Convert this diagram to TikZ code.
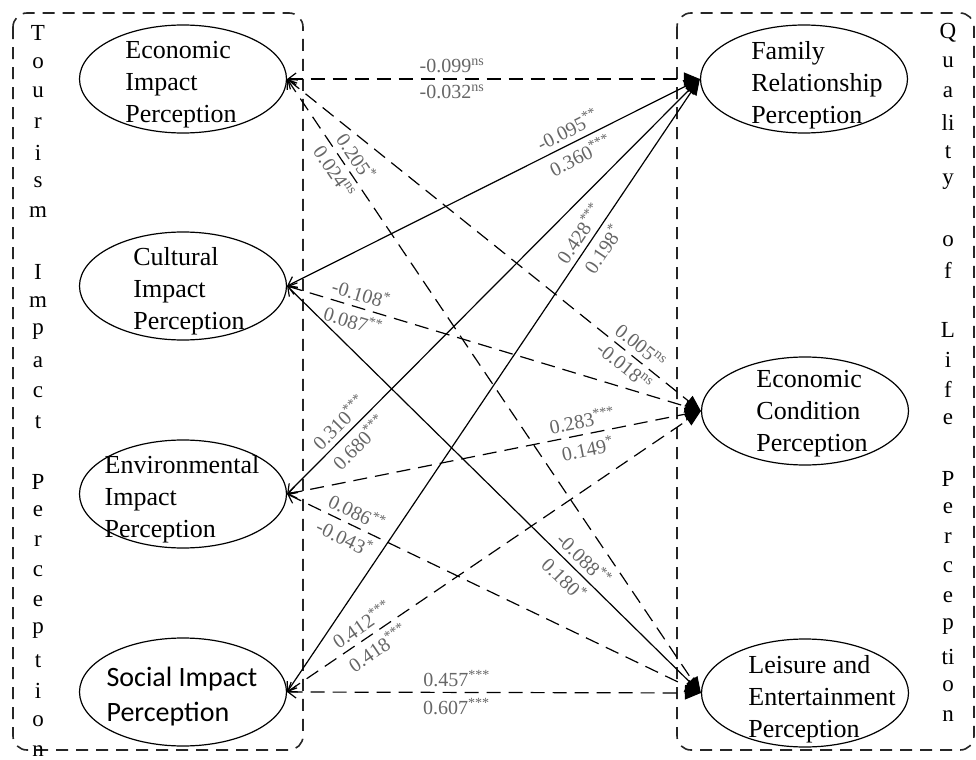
\documentclass[tikz,border=0pt]{standalone}
\usepackage{fontspec}
\setmainfont{Liberation Serif}
\newfontfamily\calibrifont{Carlito}
\usetikzlibrary{arrows.meta,shapes.geometric}
\begin{document}
\begin{tikzpicture}[x=0.5pt,y=-0.5pt,
  box/.style={draw=black!85, line width=0.8pt, dash pattern=on 6pt off 4pt, rounded corners=7pt},
  ell/.style={draw, ellipse, line width=0.6pt, minimum width=103.5pt, minimum height=54pt, inner sep=0pt},
  etext/.style={align=left, font=\fontsize{13}{16}\selectfont, inner sep=0pt},
  vlet/.style={font=\fontsize{11.5}{13}\selectfont, inner sep=0pt},
  conn/.style={line width=0.6pt, {Straight Barb[length=4pt,width=6pt]}-{Triangle[length=8pt,width=6.5pt]}},
  dsh/.style={conn, dash pattern=on 7pt off 4pt},
  lab/.style={font=\fontsize{10}{12}\selectfont, text=black!60, inner sep=2.6pt, sloped}
]
\useasboundingbox (0,0) rectangle (976,760);

% group boxes
\draw[box] (13,13) rectangle (303,750);
\draw[box] (677,13) rectangle (974,750);

% vertical titles
\foreach \l [count=\i from 0] in {T,o,u,r,i,s,m,,I,m,p,a,c,t,,P,e,r,c,e,p,t,i,o,n}
  \node[vlet] (tl\i) at (38,{33+29.9*\i}) {\l};
\foreach \l [count=\i from 0] in {Q,u,a,li,t,y,,o,f,,L,i,f,e,,P,e,r,c,e,p,ti,o,n}
  \node[vlet] (tr\i) at (948,{33+29.7*\i}) {\l};

% ellipses
\node[ell] (ei) at (183,79) {};
\node[etext] (eit) at (181,85) {Economic\\Impact\\Perception};
\node[ell] (ci) at (183,286) {};
\node[etext] (cit) at (189,291) {Cultural\\Impact\\Perception};
\node[ell] (vi) at (183,494) {};
\node[etext] (vit) at (182,499) {Environmental\\Impact\\Perception};
\node[ell] (si) at (183,692) {};
\node[etext, font=\calibrifont\fontsize{14}{17.5}\selectfont] (sit) at (182,697) {Social Impact\\Perception};

\node[ell] (fr) at (804,79) {};
\node[etext] (frt) at (817,85) {Family\\Relationship\\Perception};
\node[ell] (ec) at (805,411) {};
\node[etext] (ect) at (812,414) {Economic\\Condition\\Perception};
\node[ell] (le) at (805,693) {};
\node[etext] (let) at (822,699) {Leisure and\\Entertainment\\Perception};

% connectors
\draw[dsh] (ei.east) -- node[lab,pos=.40,above]{-0.099\textsuperscript{ns}} node[lab,pos=.40,below]{-0.032\textsuperscript{ns}} (fr.west);
\draw[dsh] (ei.east) -- node[lab,pos=.835,above]{0.005\textsuperscript{ns}} node[lab,pos=.835,below]{-0.018\textsuperscript{ns}} (ec.west);
\draw[dsh] (ei.east) -- node[lab,pos=.14,above]{0.205\textsuperscript{*}} node[lab,pos=.14,below]{0.024\textsuperscript{ns}} (le.west);

\draw[conn] (ci.east) -- node[lab,pos=.695,above]{-0.095\textsuperscript{**}} node[lab,pos=.695,below]{0.360\textsuperscript{***}} (fr.west);
\draw[dsh] (ci.east) -- node[lab,pos=.17,above]{-0.108\textsuperscript{*}} node[lab,pos=.17,below]{0.087\textsuperscript{**}} (ec.west);
\draw[conn] (ci.east) -- node[lab,pos=.695,above]{-0.088\textsuperscript{**}} node[lab,pos=.695,below]{0.180\textsuperscript{*}} (le.west);

\draw[conn] (vi.east) -- node[lab,pos=.15,above]{0.310\textsuperscript{***}} node[lab,pos=.15,below]{0.680\textsuperscript{***}} (fr.west);
\draw[dsh] (vi.east) -- node[lab,pos=.72,above]{0.283\textsuperscript{***}} node[lab,pos=.72,below]{0.149\textsuperscript{*}} (ec.west);
\draw[dsh] (vi.east) -- node[lab,pos=.155,above]{0.086\textsuperscript{**}} node[lab,pos=.155,below]{-0.043\textsuperscript{*}} (le.west);

\draw[conn] (si.east) -- node[lab,pos=.736,above]{0.428\textsuperscript{***}} node[lab,pos=.736,below]{0.198\textsuperscript{*}} (fr.west);
\draw[dsh] (si.east) -- node[lab,pos=.2,above]{0.412\textsuperscript{***}} node[lab,pos=.2,below]{0.418\textsuperscript{***}} (ec.west);
\draw[dsh] (si.east) -- node[lab,pos=.41,above]{0.457\textsuperscript{***}} node[lab,pos=.41,below]{0.607\textsuperscript{***}} (le.west);
\end{tikzpicture}
\end{document}
